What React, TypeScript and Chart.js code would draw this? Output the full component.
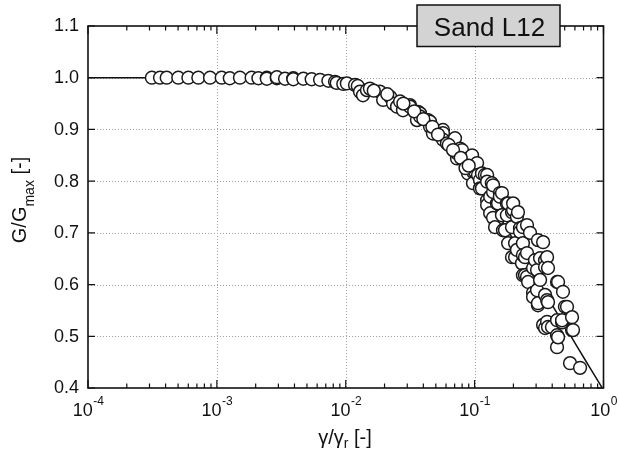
import React, { useEffect, useRef } from 'react';
import { Chart, registerables } from 'chart.js';

Chart.register(...registerables);

// ---- measured data (gamma / gamma_r , G/Gmax) ----
const strainPoints = [
  3.13e-4, 3.62e-4, 4.08e-4, 5.02e-4, 6.01e-4, 7.18e-4, 8.85e-4, 1.09e-3, 1.26e-3, 1.51e-3,
  1.86e-3, 2.1e-3, 2.44e-3, 2.44e-3, 2.92e-3, 2.92e-3, 3.38e-3, 3.92e-3, 3.92e-3, 4.69e-3,
  5.44e-3, 6.32e-3, 7.33e-3, 8.26e-3, 8.51e-3, 9.57e-3,
  0.0102, 0.0118, 0.0124, 0.0129, 0.0136, 0.0146, 0.0154, 0.0184, 0.0195, 0.0221,
  0.0233, 0.025, 0.0264, 0.0278, 0.0315, 0.0315, 0.0357, 0.0364, 0.0377, 0.0377,
  0.0425, 0.0435, 0.0451, 0.0451, 0.0475, 0.0568, 0.0568, 0.0568, 0.061, 0.0679,
  0.0679, 0.0704, 0.073, 0.073, 0.0771, 0.0798, 0.0842, 0.0842, 0.0873, 0.0889,
  0.0889, 0.0955, 0.0955, 0.0971, 0.0971, 0.0971, 0.1007, 0.1045, 0.1062, 0.11,
  0.11, 0.114, 0.114, 0.12, 0.125, 0.125, 0.125, 0.125, 0.132, 0.132,
  0.136, 0.139, 0.139, 0.139, 0.144, 0.149, 0.152, 0.157, 0.157, 0.163,
  0.163, 0.166, 0.172, 0.178, 0.178, 0.182, 0.182, 0.195, 0.195, 0.195,
  0.199, 0.199, 0.206, 0.206, 0.213, 0.213, 0.217, 0.225, 0.225, 0.233,
  0.237, 0.237, 0.237, 0.237, 0.246, 0.246, 0.255, 0.255, 0.255, 0.26,
  0.269, 0.284, 0.284, 0.284, 0.294, 0.305, 0.305, 0.31, 0.31, 0.31,
  0.322, 0.322, 0.34, 0.34, 0.352, 0.352, 0.352, 0.352, 0.365, 0.365,
  0.365, 0.371, 0.371, 0.371, 0.398, 0.436, 0.436, 0.436, 0.436, 0.444,
  0.444, 0.477, 0.477, 0.485, 0.502, 0.521, 0.55, 0.57, 0.57, 0.58,
  0.658,
  0.0165, 0.021, 0.028, 0.034, 0.04, 0.047, 0.052, 0.063, 0.068, 0.078,
  0.085, 0.09,
];
const modulusPoints = [
  1.0, 1.0, 1.0, 1.0, 1.0, 1.0, 1.0, 1.0, 0.999, 1.0,
  1.0, 0.999, 1.0, 0.998, 0.999, 1.001, 0.998, 0.999, 0.997, 0.998,
  0.997, 0.996, 0.994, 0.992, 0.99, 0.988,
  0.989, 0.986, 0.984, 0.973, 0.966, 0.976, 0.979, 0.973, 0.957, 0.963,
  0.95, 0.944, 0.954, 0.937, 0.947, 0.944, 0.918, 0.934, 0.931, 0.925,
  0.918, 0.918, 0.915, 0.905, 0.892, 0.899, 0.893, 0.88, 0.873, 0.874,
  0.87, 0.883, 0.844, 0.854, 0.863, 0.86, 0.84, 0.837, 0.834, 0.844,
  0.815, 0.835, 0.85, 0.828, 0.818, 0.796, 0.818, 0.835, 0.812, 0.802,
  0.786, 0.815, 0.786, 0.812, 0.812, 0.799, 0.763, 0.754, 0.77, 0.738,
  0.796, 0.779, 0.792, 0.729, 0.711, 0.757, 0.757, 0.777, 0.77, 0.777,
  0.734, 0.705, 0.705, 0.757, 0.734, 0.757, 0.68, 0.74, 0.711, 0.653,
  0.744, 0.757, 0.68, 0.653, 0.731, 0.667, 0.74, 0.709, 0.702, 0.641,
  0.711, 0.68, 0.657, 0.618, 0.653, 0.618, 0.715, 0.661, 0.615, 0.605,
  0.7, 0.632, 0.584, 0.576, 0.647, 0.628, 0.589, 0.686, 0.56, 0.564,
  0.651, 0.609, 0.682, 0.522, 0.647, 0.634, 0.58, 0.516, 0.653, 0.57,
  0.528, 0.632, 0.566, 0.518, 0.518, 0.605, 0.531, 0.502, 0.479, 0.605,
  0.498, 0.527, 0.531, 0.586, 0.557, 0.557, 0.448, 0.537, 0.512, 0.512,
  0.439,
  0.975, 0.968, 0.95, 0.935, 0.92, 0.905, 0.89, 0.87, 0.86, 0.845,
  0.825, 0.83,
];

// ---- model curve ----
const curveStrain = [
  1e-4, 1e-3, 2.5e-3, 5e-3, 0.01, 0.0158, 0.02, 0.0251, 0.0316, 0.0398,
  0.0501, 0.0631, 0.0794, 0.1, 0.1259, 0.1585, 0.1995, 0.2512, 0.3162, 0.3981,
  0.5012, 0.631, 0.7943, 1.0,
];
const curveModulus = [
  1.0, 1.0, 0.999, 0.996, 0.99, 0.979, 0.971, 0.96, 0.946, 0.928,
  0.905, 0.878, 0.846, 0.81, 0.77, 0.729, 0.687, 0.645, 0.603, 0.561,
  0.52, 0.478, 0.437, 0.396,
];

// ---- axes ----
const xDecadeTicks = [1e-4, 1e-3, 1e-2, 1e-1, 1];
const xTickExponents = ['-4', '-3', '-2', '-1', '0'];
const xMinorMultipliers = [2, 3, 4, 5, 6, 7, 8, 9];
const yTicks = [0.4, 0.5, 0.6, 0.7, 0.8, 0.9, 1.0, 1.1];
const yTickLabels = ['0.4', '0.5', '0.6', '0.7', '0.8', '0.9', '1.0', '1.1'];
const titleText = 'Sand L12';

const FONT = '"Liberation Sans", Arial, Helvetica, sans-serif';

function drawParts(ctx: CanvasRenderingContext2D, parts: { t: string; f: number; dy: number }[], cx: number, cy: number) {
  let total = 0;
  const widths = parts.map((p) => {
    ctx.font = `${p.f}px ${FONT}`;
    const w = ctx.measureText(p.t).width;
    total += w;
    return w;
  });
  let x = cx - total / 2;
  parts.forEach((p, i) => {
    ctx.font = `${p.f}px ${FONT}`;
    ctx.fillText(p.t, x, cy + p.dy);
    x += widths[i];
  });
}

const decorPlugin = {
  id: 'decor',
  beforeDatasetsDraw(chart: any) {
    const { ctx, chartArea: a } = chart;
    const xs = chart.scales.x;
    const ys = chart.scales.y;
    ctx.save();
    ctx.strokeStyle = '#a0a0a0';
    ctx.lineWidth = 1;
    ctx.setLineDash([1, 2]);
    xDecadeTicks.forEach((v) => {
      const px = Math.round(xs.getPixelForValue(v)) + 0.5;
      if (px <= a.left + 2 || px >= a.right - 2) return;
      ctx.beginPath();
      ctx.moveTo(px, a.top);
      ctx.lineTo(px, a.bottom);
      ctx.stroke();
    });
    yTicks.forEach((v) => {
      const py = Math.round(ys.getPixelForValue(v)) + 0.5;
      if (py <= a.top + 2 || py >= a.bottom - 2) return;
      ctx.beginPath();
      ctx.moveTo(a.left, py);
      ctx.lineTo(a.right, py);
      ctx.stroke();
    });
    ctx.restore();
  },
  afterDatasetsDraw(chart: any) {
    const { ctx, chartArea: a } = chart;
    const xs = chart.scales.x;
    const ys = chart.scales.y;
    ctx.save();
    // frame
    ctx.strokeStyle = '#111';
    ctx.lineWidth = 1.6;
    ctx.strokeRect(a.left, a.top, a.right - a.left, a.bottom - a.top);

    // x ticks (bottom + top)
    ctx.lineWidth = 1.2;
    const xTick = (v: number, len: number) => {
      const px = xs.getPixelForValue(v);
      ctx.beginPath();
      ctx.moveTo(px, a.bottom);
      ctx.lineTo(px, a.bottom - len);
      ctx.moveTo(px, a.top);
      ctx.lineTo(px, a.top + len);
      ctx.stroke();
    };
    xDecadeTicks.forEach((d, i) => {
      xTick(d, 8);
      if (i < xDecadeTicks.length - 1) {
        xMinorMultipliers.forEach((m) => xTick(m * d, 4.5));
      }
    });
    // y ticks (left + right)
    yTicks.forEach((v) => {
      const py = ys.getPixelForValue(v);
      ctx.beginPath();
      ctx.moveTo(a.left, py);
      ctx.lineTo(a.left + 7, py);
      ctx.moveTo(a.right, py);
      ctx.lineTo(a.right - 7, py);
      ctx.stroke();
    });

    // y tick labels
    ctx.fillStyle = '#111';
    ctx.font = `18px ${FONT}`;
    ctx.textAlign = 'right';
    ctx.textBaseline = 'middle';
    yTicks.forEach((v, i) => {
      ctx.fillText(yTickLabels[i], a.left - 9, ys.getPixelForValue(v) + 0.5);
    });

    // x tick labels 10^n
    ctx.textAlign = 'left';
    ctx.textBaseline = 'alphabetic';
    xDecadeTicks.forEach((v, i) => {
      const px = xs.getPixelForValue(v);
      ctx.font = `18px ${FONT}`;
      const wb = ctx.measureText('10').width;
      ctx.font = `12px ${FONT}`;
      const ws = ctx.measureText(xTickExponents[i]).width;
      const x0 = px - (wb + ws) / 2;
      ctx.font = `18px ${FONT}`;
      ctx.fillText('10', x0, 416);
      ctx.font = `12px ${FONT}`;
      ctx.fillText(xTickExponents[i], x0 + wb + 0.5, 405);
    });

    // x title
    drawParts(
      ctx,
      [
        { t: 'γ/γ', f: 20, dy: 0 },
        { t: 'r', f: 14, dy: 4 },
        { t: ' [-]', f: 20, dy: 0 },
      ],
      345,
      444
    );

    // y title
    ctx.save();
    ctx.translate(26, 200);
    ctx.rotate(-Math.PI / 2);
    drawParts(
      ctx,
      [
        { t: 'G/G', f: 20, dy: 0 },
        { t: 'max', f: 14, dy: 8 },
        { t: ' [-]', f: 20, dy: 0 },
      ],
      0,
      0
    );
    ctx.restore();

    // label box
    ctx.fillStyle = '#d3d3d3';
    ctx.fillRect(417, 5, 143, 41.5);
    ctx.strokeStyle = '#111';
    ctx.lineWidth = 1.5;
    ctx.strokeRect(417, 5, 143, 41.5);
    ctx.fillStyle = '#111';
    ctx.font = `26px ${FONT}`;
    ctx.textAlign = 'center';
    ctx.textBaseline = 'alphabetic';
    ctx.fillText(titleText, 489.5, 36);
    ctx.restore();
  },
};

export default function App() {
  const canvasRef = useRef<HTMLCanvasElement | null>(null);

  useEffect(() => {
    document.body.style.margin = '0';
    const canvas = canvasRef.current;
    if (!canvas) return;
    const pts = strainPoints.map((x, i) => ({ x, y: modulusPoints[i] }));
    const curve = curveStrain.map((x, i) => ({ x, y: curveModulus[i] }));
    const chart = new Chart(canvas, {
      type: 'scatter',
      data: {
        datasets: [
          {
            label: 'data',
            data: pts,
            showLine: false,
            pointRadius: 6.4,
            pointBorderWidth: 1.5,
            pointBorderColor: '#1a1a1a',
            pointBackgroundColor: '#ffffff',
          },
          {
            label: 'model',
            data: curve,
            showLine: true,
            borderColor: '#111',
            borderWidth: 1.5,
            pointRadius: 0,
            tension: 0.3,
            cubicInterpolationMode: 'monotone',
          },
        ],
      },
      options: {
        animation: false,
        responsive: false,
        events: [],
        layout: { padding: { left: 88, right: 15.5, top: 26, bottom: 67 } },
        plugins: { legend: { display: false }, tooltip: { enabled: false }, title: { display: false } },
        scales: {
          x: { type: 'logarithmic', min: 1e-4, max: 1, display: false },
          y: { type: 'linear', min: 0.4, max: 1.1, display: false },
        },
      },
      plugins: [decorPlugin],
    } as any);
    return () => chart.destroy();
  }, []);

  return <canvas ref={canvasRef} width={619} height={455} style={{ display: 'block' }} />;
}
